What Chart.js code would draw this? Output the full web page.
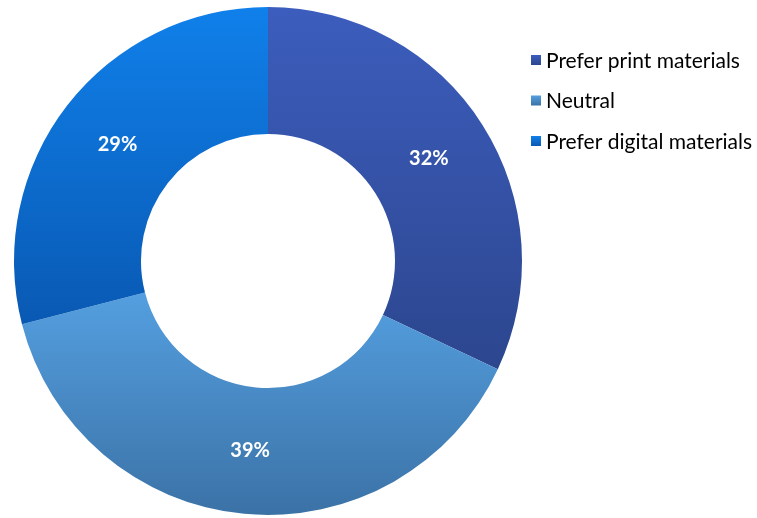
<!DOCTYPE html>
<html>
<head>
<meta charset="utf-8">
<script src="https://cdn.jsdelivr.net/npm/chart.js@4.4.1/dist/chart.umd.min.js"></script>
<style>
  html, body { margin:0; padding:0; background:#fff; }
  #wrap { width:757px; height:518px; position:relative; }
</style>
</head>
<body>
<div id="wrap"><canvas id="chart"></canvas></div>
<script>

const categories   = ['Prefer print materials', 'Neutral', 'Prefer digital materials']
const shares       = [32, 39, 29]
const topColors    = ['#3c5dbd', '#549fe0', '#1080ea']
const bottomColors = ['#2c468e', '#3b72a6', '#0959b3']

const CUTOUT = 0.5


// vertical gradient fitted to the slice's own top/bottom
function sliceFill(context){
      const i = context.dataIndex
      const chart = context.chart
      const area = chart.chartArea
      if(!area){ return topColors[i] }

      const cy = (area.top + area.bottom) / 2
      const outer = Math.min(area.right - area.left, area.bottom - area.top) / 2
      const inner = outer * CUTOUT
      const total = shares.reduce((a, b) => a + b, 0)

      let start = -Math.PI / 2
      for(let k = 0; k < i; k++){ start += shares[k] / total * Math.PI * 2 }
      const end = start + shares[i] / total * Math.PI * 2

      const ys = []
      ;[start, end].forEach((a)=>{ ys.push(cy + outer * Math.sin(a), cy + inner * Math.sin(a)) })
      if(start < Math.PI / 2 && end > Math.PI / 2){ ys.push(cy + outer) }

      const g = chart.ctx.createLinearGradient(0, Math.min(...ys), 0, Math.max(...ys))
      g.addColorStop(0, topColors[i])
      g.addColorStop(1, bottomColors[i])
      return g
}


// percent text in the middle of each ring segment
const sliceLabels = {
      id: 'sliceLabels',
      afterDatasetsDraw(chart){
            const ctx = chart.ctx
            ctx.save()
            ctx.font = 'bold 20px Lato'
            ctx.fillStyle = '#ffffff'
            ctx.textAlign = 'center'
            ctx.textBaseline = 'middle'
            chart.getDatasetMeta(0).data.forEach((arc, i)=>{
                  const p = arc.tooltipPosition()
                  ctx.fillText(shares[i] + '%', p.x, p.y)
            })
            ctx.restore()
      }
}


// legend to the right of the ring: small gradient squares + names
const sideLegend = {
      id: 'sideLegend',
      afterDraw(chart){
            const ctx = chart.ctx
            const x = chart.chartArea.right + 9
            ctx.save()
            ctx.font = '21px Lato'
            ctx.textBaseline = 'middle'
            ctx.textAlign = 'left'
            categories.forEach((name, i)=>{
                  const y = 60 + i * 40.5
                  const g = ctx.createLinearGradient(0, y - 5, 0, y + 5)
                  g.addColorStop(0, topColors[i])
                  g.addColorStop(1, bottomColors[i])
                  ctx.fillStyle = g
                  ctx.fillRect(x, y - 5, 10, 10)
                  ctx.fillStyle = '#000000'
                  ctx.fillText(name, x + 15, y + 1)
            })
            ctx.restore()
      }
}


new Chart(document.getElementById('chart'), {
      type: 'doughnut',
      data: {
            labels: categories,
            datasets: [{
                  data: shares,
                  backgroundColor: sliceFill,
                  borderWidth: 0,
            }]
      },
      options: {
            responsive: true,
            maintainAspectRatio: false,
            animation: false,
            cutout: (CUTOUT * 100) + '%',
            layout: { padding: { top: 7, bottom: 3, left: 14, right: 235 } },
            plugins: {
                  tooltip: { enabled: false },
                  legend: { display: false }
            }
      },
      plugins: [sliceLabels, sideLegend]
})
</script>
</body>
</html>
